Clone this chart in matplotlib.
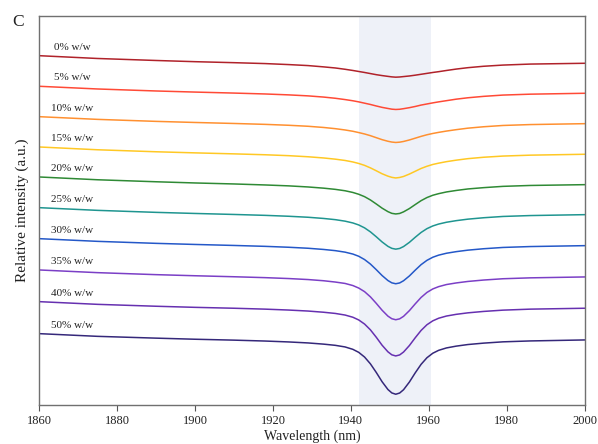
import matplotlib
matplotlib.use("Agg")
import matplotlib.pyplot as plt

# wavelength grid (nm) shared by all spectra, denser around the absorption band
wavelength = [1860, 1875, 1890, 1900, 1910, 1918, 1924, 1929, 1933, 1936, 1938.5, 1940.5,
              1942, 1943.5, 1945, 1946.5, 1948, 1949.5, 1950.5, 1951.5, 1952.5, 1953.5,
              1955, 1956.5, 1958, 1959.5, 1961, 1962.5, 1964.5, 1967, 1970, 1974, 1979,
              1986, 2000]

labels = ["0% w/w", "5% w/w", "10% w/w", "15% w/w", "20% w/w",
          "25% w/w", "30% w/w", "35% w/w", "40% w/w", "50% w/w"]

# stacked relative intensities (a.u., offset per concentration)
s0 = [349.3, 346.5, 344.5, 343.3, 342.3, 341.4, 340.4, 339.4, 338.1, 337.0, 335.7, 334.5,
      333.5, 332.5, 331.4, 330.3, 329.4, 328.6, 328.1, 327.8, 328.0, 328.4,
      329.0, 329.8, 330.7, 331.6, 332.5, 333.3, 334.5, 335.9, 337.3, 338.7, 339.9,
      340.9, 341.7]
s5 = [318.7, 316.0, 314.0, 312.9, 311.9, 311.0, 310.1, 309.1, 307.9, 306.7, 305.4, 304.2,
      303.1, 301.8, 300.5, 299.0, 297.6, 296.5, 295.8, 295.5, 295.7, 296.3,
      297.3, 298.5, 299.9, 301.0, 302.1, 303.1, 304.3, 305.8, 307.2, 308.6, 309.9,
      310.8, 311.7]
s10 = [288.3, 285.6, 283.6, 282.5, 281.5, 280.6, 279.7, 278.7, 277.5, 276.3, 275.0, 273.7,
       272.4, 271.0, 269.3, 267.3, 265.3, 263.7, 262.9, 262.5, 262.8, 263.5,
       265.0, 266.8, 268.6, 270.2, 271.5, 272.6, 273.9, 275.3, 276.8, 278.2, 279.5,
       280.4, 281.3]
s15 = [258.0, 255.2, 253.2, 252.1, 251.1, 250.2, 249.3, 248.2, 247.0, 245.8, 244.5, 243.0,
       241.5, 239.6, 237.1, 234.2, 231.2, 228.8, 227.6, 227.0, 227.5, 228.5,
       230.9, 233.7, 236.5, 238.7, 240.5, 241.8, 243.3, 244.8, 246.3, 247.7, 248.9,
       249.8, 250.7]
s20 = [228.0, 225.2, 223.2, 222.0, 221.0, 220.0, 219.1, 218.0, 216.8, 215.6, 214.2, 212.5,
       210.7, 208.3, 205.0, 201.0, 196.8, 193.3, 191.6, 191.0, 191.5, 193.1,
       196.4, 200.4, 204.3, 207.4, 209.7, 211.3, 213.0, 214.5, 216.0, 217.3, 218.6,
       219.5, 220.3]
s25 = [197.3, 194.6, 192.6, 191.5, 190.5, 189.6, 188.7, 187.7, 186.5, 185.3, 183.8, 182.0,
       180.0, 177.1, 173.1, 168.2, 163.0, 158.6, 156.6, 155.8, 156.5, 158.4,
       162.6, 167.7, 172.5, 176.3, 179.0, 180.9, 182.7, 184.3, 185.8, 187.2, 188.5,
       189.4, 190.3]
s30 = [166.3, 163.6, 161.6, 160.5, 159.5, 158.6, 157.7, 156.7, 155.5, 154.3, 152.8, 150.9,
       148.7, 145.4, 140.9, 135.3, 129.4, 124.4, 122.1, 121.2, 122.0, 124.2,
       129.0, 134.8, 140.3, 144.6, 147.7, 149.8, 151.7, 153.3, 154.8, 156.2, 157.5,
       158.4, 159.3]
s35 = [135.0, 132.3, 130.3, 129.2, 128.2, 127.3, 126.4, 125.4, 124.2, 122.9, 121.5, 119.4,
       116.9, 113.3, 108.1, 101.6, 94.7, 88.8, 86.2, 85.2, 86.1, 88.6,
       94.3, 101.1, 107.5, 112.5, 116.0, 118.3, 120.4, 122.0, 123.5, 124.9, 126.2,
       127.1, 128.0]
s40 = [103.3, 100.6, 98.7, 97.6, 96.7, 95.8, 94.9, 93.9, 92.7, 91.5, 89.9, 87.7,
       85.0, 80.9, 75.1, 67.7, 59.7, 53.1, 50.1, 49.0, 50.0, 52.9,
       59.4, 67.2, 74.5, 80.2, 84.1, 86.7, 88.9, 90.6, 92.1, 93.5, 94.8,
       95.8, 96.7]
s50 = [71.3, 68.6, 66.8, 65.7, 64.8, 63.9, 63.0, 62.0, 60.8, 59.6, 58.0, 55.6,
       52.6, 47.9, 41.1, 32.5, 23.2, 15.4, 12.0, 10.7, 11.9, 15.2,
       22.9, 32.1, 40.6, 47.2, 51.7, 54.6, 57.0, 58.8, 60.4, 61.8, 63.1,
       64.0, 65.0]

spectra = [s0, s5, s10, s15, s20, s25, s30, s35, s40, s50]
colors = ["#b0222a", "#ff4a36", "#ff9030", "#ffc824", "#2f8a35",
          "#1f9590", "#2458c8", "#7b3fc6", "#6630b0", "#35287a"]

plt.rcParams["font.family"] = ["Liberation Serif", "DejaVu Serif"]

fig = plt.figure(figsize=(5.98, 4.44), dpi=100)
ax = fig.add_axes([0.0652, 0.088, 0.9128, 0.876])

# highlighted absorption band
ax.axvspan(1942, 1960.5, color="#eef1f8", zorder=0, lw=0)

for y, c, lab in zip(spectra, colors, labels):
    ax.plot(wavelength, y, color=c, lw=1.1)
    ax.text(1868.5, y[0] + 8.5, lab, ha="center", va="center", fontsize=8, color="#222222")

ax.set_xlim(1860, 2000)
ax.set_ylim(0, 389)
ax.set_xticks(range(1860, 2001, 20))
ax.set_yticks([])
ax.tick_params(axis="x", direction="out", length=4, width=0.8, colors="#555555",
               labelsize=9, labelcolor="#222222", pad=3)
for sp in ax.spines.values():
    sp.set_color("#707070")
    sp.set_linewidth(1.0)

ax.set_xlabel("Wavelength (nm)", fontsize=10, color="#222222", labelpad=2)
ax.set_ylabel("Relative intensity (a.u.)", fontsize=11, color="#222222", labelpad=7)
fig.text(0.02, 0.942, "C", fontsize=12.5, color="#222222")

fig.savefig("out.png", dpi=100)
